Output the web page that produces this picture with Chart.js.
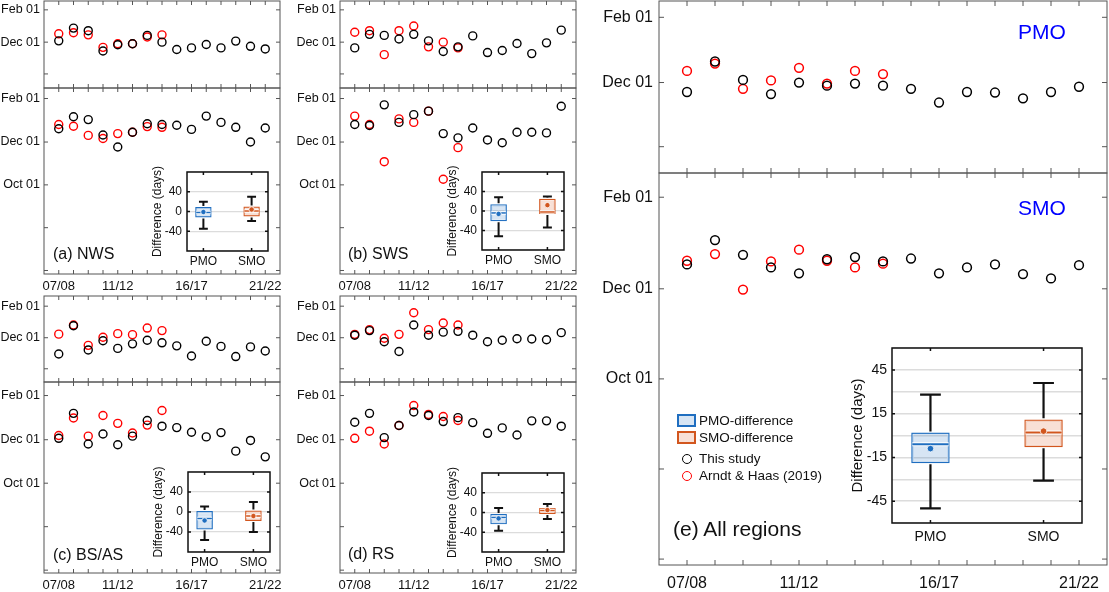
<!DOCTYPE html>
<html>
<head>
<meta charset="utf-8">
<script src="https://cdn.jsdelivr.net/npm/chart.js@4.4.1/dist/chart.umd.min.js"></script>
<style>
body { margin: 0; background: #fff; }
#fig { position: relative; width: 1109px; height: 592px; overflow: hidden; font-family: Arial, "Liberation Sans", sans-serif; color: #111; }
#fig .cv { position: absolute; }
#fig .txt { position: absolute; white-space: nowrap; }
#fig .patch { position: absolute; box-sizing: border-box; border-width: 2px; border-style: solid; }
#fig .ring { position: absolute; box-sizing: border-box; border-radius: 50%; border-width: 1.5px; border-style: solid; }
</style>
</head>
<body>
<div id="fig"></div>
<script>
const FONT = 'Arial, "Liberation Sans", sans-serif';
Chart.defaults.font.family = FONT;

const seasons = ['07/08', '08/09', '09/10', '10/11', '11/12', '12/13', '13/14', '14/15',
                 '15/16', '16/17', '17/18', '18/19', '19/20', '20/21', '21/22'];
const labeledSeasons = ['07/08', '11/12', '16/17', '21/22'];

// y axis: days relative to Dec 01
const dateTickValues = [62, 0, -61, -122, -183];
const dateTickLabels = ['Feb 01', 'Dec 01', 'Oct 01', '', ''];

// PMO / SMO dates, this study (all seasons) and Arndt & Haas (2019) (07/08 - 14/15)
const nwsPmoThis = [2.5, 27, 22, -17, -5, -3, 13, 0, -14, -11, -4.5, -11, 2, -8, -13];
const nwsPmoAH   = [16, 18, 14, -10, -3, -3, 10, 14];
const nwsSmoThis = [19, 36, 32, 10, -7, 14, 26, 25, 24, 18, 37, 28, 21, 0, 20];
const nwsSmoAH   = [25, 22.5, 9.5, 5, 12, 14, 22, 21];

const swsPmoThis = [-11, 15, 13, 6, 15, 2.5, -18, -9, 12, -20, -16, -2.6, -22, -1.3, 23];
const swsPmoAH   = [19, 22, -24, 22, 31, -9, 0, -11];
const swsSmoThis = [25, 23.5, 53, 28, 39, 44, 12, 6, 20, 3, -1, 14, 14, 13, 51];
const swsSmoAH   = [37, 25, -28, 33, 28, 44, -53, -8];

const bsPmoThis = [-32, 23.5, -24, -6, -21, -12, -5, -10, -16, -36, -7, -17, -37, -18, -26];
const bsPmoAH   = [7, 25, -15, 1, 8, 6, 19, 14];
const bsSmoThis = [2, 37, -6, 8, -7, 5, 27, 19, 17, 10.5, 4, 10, -16, -1, -24];
const bsSmoAH   = [6, 30.5, 5, 34, 23, 9.5, 20.5, 41];

const rsPmoThis = [5, 14, -8, -27, 25, 5, 11, 12.5, 5, -8, -5, -2, -2.6, -4, 10];
const rsPmoAH   = [6.6, 16, -1, 6.6, 49, 16, 29, 25];
const rsSmoThis = [24.5, 37, 3, 20, 39, 34, 25.5, 31, 24, 9, 16.6, 6.7, 26.5, 26.5, 19];
const rsSmoAH   = [2, 12, -6, 20, 48, 35.5, 32.6, 27];

const allPmoThis = [-9, 20, 2.5, -11, 0, -3, -1, -3, -6, -19, -9, -9.5, -15, -9, -4];
const allPmoAH   = [11, 18, -6, 2, 14, -1, 11, 8];
const allSmoThis = [16.5, 33, 23, 14.5, 10.5, 20, 21.5, 18.5, 20.5, 10.5, 14.5, 16.5, 10, 7, 16];
const allSmoAH   = [19, 23.5, -0.5, 18.5, 26.5, 19, 14.5, 17];

// difference boxes: [lower whisker, q1, median, q3, upper whisker, mean]
const diffLabels = ['PMO', 'SMO'];
const nwsDiffPmo = [-35, -12, -2, 9, 20, -1];
const nwsDiffSmo = [-19, -10, 1, 10, 30, 4];
const swsDiffPmo = [-52, -21, -4, 14, 28, -6];
const swsDiffSmo = [-34, -6, -2, 25, 30, 12];
const bsDiffPmo  = [-56, -35, -13, 2, 11, -17];
const bsDiffSmo  = [-40, -18, -8, 3, 20, -8];
const rsDiffPmo  = [-37, -24, -10, -3, 9, -12];
const rsDiffSmo  = [-13, -3, 4, 9, 17, 5];
const allDiffPmo = [-50, -19, -6, 2, 28, -9];
const allDiffSmo = [-31, -8, 2, 11, 36, 3];

const smallDiffGrid = [-80, -40, 0, 40, 80];
const smallDiffLabels = [-40, 0, 40];
const allDiffGrid = [-60, -45, -30, -15, 0, 15, 30, 45, 60];
const allDiffLabels = [-45, -15, 15, 45];

const boxColors = ['#1f6ec0', '#d2561e'];
const boxFills = ['rgba(31,110,192,0.18)', 'rgba(217,83,25,0.18)'];

const fig = document.getElementById('fig');

function addCanvas(left, top, width, height) {
    const c = document.createElement('canvas');
    c.className = 'cv';
    c.width = width;
    c.height = height;
    c.style.left = left + 'px';
    c.style.top = top + 'px';
    c.style.width = width + 'px';
    c.style.height = height + 'px';
    fig.appendChild(c);
    return c;
}

function addText(text, left, centerY, size, color) {
    const d = document.createElement('div');
    d.className = 'txt';
    d.textContent = text;
    d.style.left = left + 'px';
    d.style.top = (centerY - size * 0.6) + 'px';
    d.style.fontSize = size + 'px';
    d.style.lineHeight = (size * 1.2) + 'px';
    if (color) d.style.color = color;
    fig.appendChild(d);
}

// fixed axis sizes, no extra room for overhanging labels
function fixHeight(h) {
    return s => { s.height = h; s.paddingLeft = 0; s.paddingRight = 0; s.paddingTop = 0; s.paddingBottom = 0; };
}
function fixWidth(w) {
    return s => { s.width = w; s.paddingLeft = 0; s.paddingRight = 0; s.paddingTop = 0; s.paddingBottom = 0; };
}

// box around the plot area with tick marks pointing inwards on all sides
function makeFrame(cfg) {
    return {
        id: 'frame',
        beforeDraw(chart) {
            if (!cfg.fill) return;
            const a = chart.chartArea;
            chart.ctx.save();
            chart.ctx.fillStyle = cfg.fill;
            chart.ctx.fillRect(a.left, a.top, a.right - a.left, a.bottom - a.top);
            chart.ctx.restore();
        },
        afterDraw(chart) {
            const { ctx, chartArea: a } = chart;
            const x = chart.scales.x, y = chart.scales.y;
            const len = cfg.tickLength;
            ctx.save();
            ctx.strokeStyle = cfg.color;
            ctx.lineWidth = cfg.lineWidth;
            ctx.beginPath();
            cfg.xTicks.forEach(v => {
                const px = x.getPixelForValue(v);
                ctx.moveTo(px, a.bottom); ctx.lineTo(px, a.bottom - len);
                ctx.moveTo(px, a.top); ctx.lineTo(px, a.top + len);
            });
            cfg.yTicks.filter(v => v >= y.min && v <= y.max).forEach(v => {
                const py = y.getPixelForValue(v);
                ctx.moveTo(a.left, py); ctx.lineTo(a.left + len, py);
                ctx.moveTo(a.right, py); ctx.lineTo(a.right - len, py);
            });
            ctx.stroke();
            ctx.strokeRect(a.left, a.top, a.right - a.left, a.bottom - a.top);
            ctx.restore();
        }
    };
}

// whiskers, median and mean on top of the floating bars
function makeWhiskers(stats, p) {
    return {
        id: 'whiskers',
        afterDatasetsDraw(chart) {
            const { ctx } = chart;
            const y = chart.scales.y;
            const bars = chart.getDatasetMeta(0).data;
            ctx.save();
            stats.forEach((s, i) => {
                const bar = bars[i];
                const cx = bar.x, half = bar.width / 2, cap = bar.width * 0.27;
                const yLo = y.getPixelForValue(s[0]);
                const yQ1 = y.getPixelForValue(s[1]);
                const yMed = y.getPixelForValue(s[2]);
                const yQ3 = y.getPixelForValue(s[3]);
                const yHi = y.getPixelForValue(s[4]);
                const yMean = y.getPixelForValue(s[5]);

                ctx.strokeStyle = '#111';
                ctx.lineWidth = p.whiskerWidth;
                ctx.beginPath();
                ctx.moveTo(cx, yQ3 - p.boxLine / 2); ctx.lineTo(cx, yHi);
                ctx.moveTo(cx - cap, yHi); ctx.lineTo(cx + cap, yHi);
                ctx.moveTo(cx, yQ1 + p.boxLine / 2); ctx.lineTo(cx, yLo);
                ctx.moveTo(cx - cap, yLo); ctx.lineTo(cx + cap, yLo);
                ctx.stroke();

                const ins = p.boxLine / 2 + 0.7;
                ctx.strokeStyle = 'rgba(255,255,255,0.85)';
                ctx.lineWidth = 1;
                ctx.strokeRect(cx - half + ins, yQ3 + ins, 2 * (half - ins), yQ1 - yQ3 - 2 * ins);

                const x0 = cx - half + p.boxLine / 2, x1 = cx + half - p.boxLine / 2;
                ctx.strokeStyle = '#fff';
                ctx.lineWidth = p.medianWidth + 2;
                ctx.beginPath(); ctx.moveTo(x0, yMed); ctx.lineTo(x1, yMed); ctx.stroke();
                ctx.strokeStyle = boxColors[i];
                ctx.lineWidth = p.medianWidth;
                ctx.beginPath(); ctx.moveTo(x0, yMed); ctx.lineTo(x1, yMed); ctx.stroke();

                ctx.beginPath();
                ctx.arc(cx, yMean, p.meanRadius, 0, 2 * Math.PI);
                ctx.fillStyle = boxColors[i];
                ctx.fill();
                ctx.strokeStyle = '#fff';
                ctx.lineWidth = 0.8;
                ctx.stroke();
            });
            ctx.restore();
        }
    };
}

function scatterPanel(p) {
    const padTop = 1, padRight = 2;
    const xh = p.xh || 0;
    const padBottom = xh ? 0 : 1;
    const canvas = addCanvas(p.left - p.gutter, p.top - padTop,
        p.gutter + p.width + padRight, padTop + p.height + (xh || padBottom));
    const toPoints = arr => arr.map((v, i) => ({ x: i, y: v }));
    new Chart(canvas, {
        type: 'scatter',
        data: {
            datasets: [
                {
                    label: 'This study',
                    data: toPoints(p.thisStudy),
                    borderColor: '#000',
                    backgroundColor: 'rgba(0,0,0,0)',
                    borderWidth: p.markWidth,
                    pointRadius: p.markRadius
                },
                {
                    label: 'Arndt & Haas (2019)',
                    data: toPoints(p.arndt),
                    borderColor: '#ff0000',
                    backgroundColor: 'rgba(0,0,0,0)',
                    borderWidth: p.markWidth,
                    pointRadius: p.markRadius
                }
            ]
        },
        options: {
            responsive: false,
            animation: false,
            devicePixelRatio: 1,
            events: [],
            layout: { autoPadding: false, padding: { top: padTop, right: padRight, bottom: padBottom, left: 0 } },
            plugins: { legend: { display: false }, tooltip: { enabled: false } },
            scales: {
                x: {
                    type: 'linear', min: -1, max: 15, display: xh > 0,
                    afterBuildTicks: s => { s.ticks = seasons.map((_, i) => ({ value: i })); },
                    afterFit: fixHeight(xh),
                    grid: { display: false, drawTicks: false },
                    border: { display: false },
                    ticks: {
                        autoSkip: false, maxRotation: 0, padding: p.xPad, color: '#111',
                        font: { size: p.xFont },
                        callback: v => labeledSeasons.includes(seasons[v]) ? seasons[v] : ''
                    }
                },
                y: {
                    type: 'linear', min: p.yMin, max: p.yMax,
                    afterBuildTicks: s => {
                        s.ticks = dateTickValues.filter(v => v >= p.yMin && v <= p.yMax).map(v => ({ value: v }));
                    },
                    afterFit: fixWidth(p.gutter),
                    grid: { display: false, drawTicks: false },
                    border: { display: false },
                    ticks: {
                        autoSkip: false, padding: p.yPad, color: '#111',
                        font: { size: p.yFont },
                        callback: v => {
                            const label = dateTickLabels[dateTickValues.indexOf(v)];
                            return (p.hideOct && label === 'Oct 01') ? '' : label;
                        }
                    }
                }
            }
        },
        plugins: [makeFrame({
            xTicks: seasons.map((_, i) => i), yTicks: dateTickValues,
            color: '#555', lineWidth: 1, tickLength: p.tickLen
        })]
    });
}

function insetPanel(p) {
    const padTop = p.padTop, padRight = 2;
    const canvas = addCanvas(p.left - p.gutter, p.top - padTop,
        p.gutter + p.width + padRight, padTop + p.height + p.xh);
    const stats = [p.pmo, p.smo];
    new Chart(canvas, {
        type: 'bar',
        data: {
            datasets: [{
                data: stats.map((s, i) => ({ x: i + 1, y: [s[1], s[3]] })),
                backgroundColor: boxFills,
                borderColor: boxColors,
                borderWidth: p.boxLine,
                borderSkipped: false,
                barPercentage: 0.34,
                categoryPercentage: 1
            }]
        },
        options: {
            responsive: false,
            animation: false,
            devicePixelRatio: 1,
            events: [],
            layout: { autoPadding: false, padding: { top: padTop, right: padRight, bottom: 0, left: 0 } },
            plugins: { legend: { display: false }, tooltip: { enabled: false } },
            scales: {
                x: {
                    type: 'linear', min: 0.66, max: 2.34, offset: false,
                    afterBuildTicks: s => { s.ticks = [{ value: 1 }, { value: 2 }]; },
                    afterFit: fixHeight(p.xh),
                    grid: { display: false, drawTicks: false },
                    border: { display: false },
                    ticks: {
                        autoSkip: false, maxRotation: 0, padding: p.xPad, color: '#111',
                        font: { size: p.font },
                        callback: v => diffLabels[v - 1]
                    }
                },
                y: {
                    type: 'linear', min: p.yMin, max: p.yMax,
                    afterBuildTicks: s => { s.ticks = p.grid.map(v => ({ value: v })); },
                    afterFit: fixWidth(p.gutter),
                    grid: { color: '#dcdcdc', lineWidth: p.gridWidth, drawTicks: false },
                    border: { display: false },
                    ticks: {
                        autoSkip: false, padding: 5, color: '#111',
                        font: { size: p.font },
                        callback: v => p.labels.includes(v) ? String(v) : ''
                    },
                    title: {
                        display: true, text: 'Difference (days)', color: '#111',
                        padding: { top: p.titlePad, bottom: 0 },
                        font: { size: p.titleFont }
                    }
                }
            }
        },
        plugins: [
            makeFrame({ fill: '#fff', xTicks: [1, 2], yTicks: p.labels, color: '#111', lineWidth: 1.5, tickLength: 3 }),
            makeWhiskers(stats, p)
        ]
    });
}

// ---- small regional panels ----
const smallBase = { width: 236, gutter: 44, markRadius: 4, markWidth: 1.4, tickLen: 4,
                    xPad: 5, xFont: 13, yPad: 4, yFont: 12.5 };
const regions = [
    { left: 44, rows: [1, 87, -88, 79, 88, 186, -188, 77], pmo: [nwsPmoThis, nwsPmoAH], smo: [nwsSmoThis, nwsSmoAH] },
    { left: 340, rows: [1, 87, -88, 79, 88, 186, -188, 77], pmo: [swsPmoThis, swsPmoAH], smo: [swsSmoThis, swsSmoAH] },
    { left: 44, rows: [296, 86, -87, 82, 382, 191, -187, 81], pmo: [bsPmoThis, bsPmoAH], smo: [bsSmoThis, bsSmoAH] },
    { left: 340, rows: [296, 86, -87, 82, 382, 191, -187, 81], pmo: [rsPmoThis, rsPmoAH], smo: [rsSmoThis, rsSmoAH] }
];
regions.forEach(r => {
    const [t1, h1, min1, max1, t2, h2, min2, max2] = r.rows;
    scatterPanel(Object.assign({}, smallBase, { left: r.left, top: t1, height: h1, yMin: min1, yMax: max1,
        hideOct: true, thisStudy: r.pmo[0], arndt: r.pmo[1] }));
    scatterPanel(Object.assign({}, smallBase, { left: r.left, top: t2, height: h2, yMin: min2, yMax: max2,
        xh: 24, thisStudy: r.smo[0], arndt: r.smo[1] }));
});

// ---- all regions panel ----
const bigBase = { left: 659, width: 448, gutter: 59, markRadius: 4.4, markWidth: 1.5, tickLen: 5,
                  xPad: 9, xFont: 16, yPad: 6, yFont: 16 };
scatterPanel(Object.assign({}, bigBase, { top: 1, height: 172, yMin: -86, yMax: 77.5, hideOct: true,
    thisStudy: allPmoThis, arndt: allPmoAH }));
scatterPanel(Object.assign({}, bigBase, { top: 173, height: 392, yMin: -187, yMax: 78.4, xh: 29,
    thisStudy: allSmoThis, arndt: allSmoAH }));

// ---- difference insets ----
const smallInset = { width: 82, gutter: 40, xh: 18, padTop: 14, yMin: -80, yMax: 80, grid: smallDiffGrid,
                     labels: smallDiffLabels, font: 12, titleFont: 12, titlePad: 3, xPad: 3.5,
                     gridWidth: 1.2, boxLine: 2, whiskerWidth: 2, medianWidth: 1.5, meanRadius: 2.7 };
insetPanel(Object.assign({}, smallInset, { left: 187, top: 172, width: 81, height: 79, pmo: nwsDiffPmo, smo: nwsDiffSmo }));
insetPanel(Object.assign({}, smallInset, { left: 482, top: 172, height: 78, pmo: swsDiffPmo, smo: swsDiffSmo }));
insetPanel(Object.assign({}, smallInset, { left: 188, top: 472, height: 80, pmo: bsDiffPmo, smo: bsDiffSmo }));
insetPanel(Object.assign({}, smallInset, { left: 482, top: 473, height: 79, pmo: rsDiffPmo, smo: rsDiffSmo }));
insetPanel({ left: 892, top: 348, width: 190, height: 175, gutter: 46, xh: 26, padTop: 4, yMin: -60, yMax: 60,
    grid: allDiffGrid, labels: allDiffLabels, font: 14, titleFont: 15, titlePad: 3.3, xPad: 5.3,
    gridWidth: 1.5, boxLine: 2.2, whiskerWidth: 2.2, medianWidth: 2, meanRadius: 3.3, pmo: allDiffPmo, smo: allDiffSmo });

// ---- texts ----
addText('(a) NWS', 53, 254, 16);
addText('(b) SWS', 348, 254, 16);
addText('(c) BS/AS', 53, 555, 16);
addText('(d) RS', 348, 554, 16);
addText('(e) All regions', 673, 529, 21);
addText('PMO', 1018, 32, 21, '#0000ff');
addText('SMO', 1018, 208, 21, '#0000ff');

// ---- legend of panel (e) ----
function addPatch(left, top, i) {
    const d = document.createElement('div');
    d.className = 'patch';
    d.style.cssText += `left:${left}px;top:${top}px;width:19px;height:13px;border-color:${boxColors[i]};background:${boxFills[i]}`;
    fig.appendChild(d);
}
function addRing(cx, cy, color) {
    const d = document.createElement('div');
    d.className = 'ring';
    d.style.cssText += `left:${cx - 5}px;top:${cy - 5}px;width:10px;height:10px;border-color:${color}`;
    fig.appendChild(d);
}
addPatch(677, 414, 0);
addText('PMO-difference', 699, 421, 13.5);
addPatch(677, 431, 1);
addText('SMO-difference', 699, 438, 13.5);
addRing(687, 459, '#000');
addText('This study', 699, 459, 13.5);
addRing(687, 476, '#ff0000');
addText('Arndt & Haas (2019)', 699, 476, 13.5);
</script>
</body>
</html>
